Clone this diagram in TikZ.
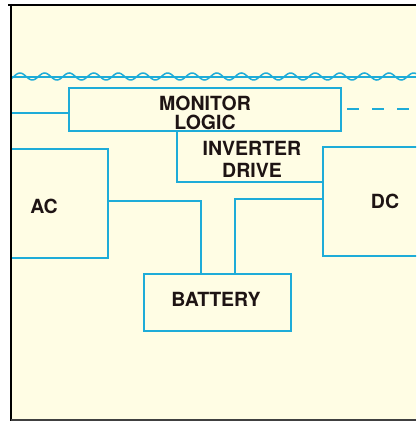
\documentclass[tikz,border=0pt]{standalone}
\usepackage{fontspec}
\setmainfont{TeX Gyre Heros}
\definecolor{cream}{RGB}{255,253,228}
\definecolor{linecol}{RGB}{30,172,216}
\definecolor{ink}{RGB}{30,20,20}
\begin{document}
\begin{tikzpicture}[x=1pt,y=-1pt,
  wire/.style={draw=linecol,line width=2pt},
  box/.style={wire,rectangle,inner sep=0pt},
  lbl/.style={font=\fontsize{19.5}{21}\selectfont\bfseries,text=ink,inner sep=0pt}]
\useasboundingbox (0,0) rectangle (416,422);
\fill[white] (0,0) rectangle (416,422);
\fill[cream] (11,5) rectangle (416,420);
\begin{scope}
\clip (11,0) rectangle (416,422);
% wavy line
\draw[wire,line width=1.8pt] (11,77) -- (416,77);
\draw[wire,line width=1.5pt,domain=11:416,samples=300] plot (\x,{76.5-3.5*cos(14.634*(\x-20))});
% boxes
\node[box,minimum width=272pt,minimum height=43pt] (mon) at (205,109.5) {};
\node[box,minimum width=97pt,minimum height=109pt] (ac) at (59.5,203.5) {};
\node[box,minimum width=95pt,minimum height=109pt] (dc) at (370.5,201.5) {};
\node[box,minimum width=147pt,minimum height=57pt] (bat) at (217.5,302.5) {};
% labels
\node[lbl] (monT) at (205,103) {MONITOR};
\node[lbl] (logT) at (205,122) {LOGIC};
\node[lbl] (invT) at (252,148) {INVERTER};
\node[lbl] (drvT) at (252,170) {DRIVE};
\node[lbl] (acT) at (44,206) {AC};
\node[lbl] (dcT) at (385,201) {DC};
\node[lbl] (batT) at (216,299) {BATTERY};
% inverter drive outline
\coordinate (invTL) at (177,131);
\draw[wire] (invTL) |- (dc.west |- 0,182);
% connectors
\coordinate (fl) at (11,113);
\draw[wire] (fl) -- (fl -| mon.west);
\coordinate (ds) at (347,109);
\coordinate (dr) at (418,109);
\draw[wire,dash pattern=on 12pt off 13pt] (ds) -- (dr);
\draw[wire] (ac.east |- 0,201) -| ([xshift=-16.5pt]bat.north);
\draw[wire] (dc.west |- 0,199) -| ([xshift=17.5pt]bat.north);
\end{scope}
% frame
\draw[black,line width=2pt] (11,4) -- (11,421);
\draw[black,line width=2pt] (8,5) -- (416,5);
\draw[black!75,line width=1.2pt] (11,420) -- (416,420);
\end{tikzpicture}
\end{document}
